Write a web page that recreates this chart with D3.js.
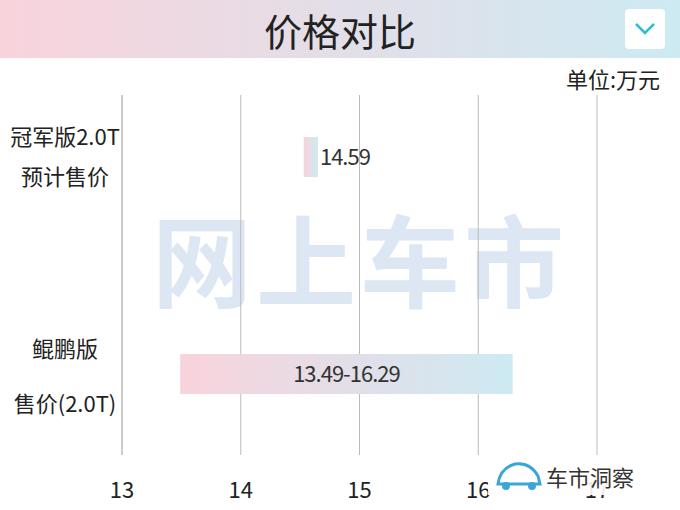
<!DOCTYPE html>
<html><head><meta charset="utf-8">
<script src="https://cdn.jsdelivr.net/npm/d3@7"></script>
<style>body{margin:0;background:#fff}svg{font-family:"Noto Sans CJK SC","Noto Sans",sans-serif}</style>
</head><body>
<svg id="chart" width="680" height="510"></svg>
<script>
const labels = [["冠军版2.0T","预计售价"], ["鲲鹏版","售价(2.0T)"]];
const lows = [14.53, 13.49];
const highs = [14.65, 16.29];
const barText = ["14.59", "13.49-16.29"];
const ticks = [13, 14, 15, 16, 17];

const svg = d3.select("#chart");
const defs = svg.append("defs");
const grad = defs.append("linearGradient").attr("id", "g1");
grad.append("stop").attr("offset", "0%").attr("stop-color", "#f9d3dc");
grad.append("stop").attr("offset", "100%").attr("stop-color", "#cdeaf3");

// header band
svg.append("rect").attr("width", 680).attr("height", 58).attr("fill", "url(#g1)");
svg.append("text").attr("x", 340).attr("y", 46).attr("text-anchor", "middle")
  .attr("font-size", 38).attr("fill", "#222").text("价格对比");
svg.append("rect").attr("x", 625).attr("y", 9).attr("width", 40).attr("height", 40).attr("rx", 4).attr("fill", "#fff");
svg.append("path").attr("d", "M636 24 L645 33 L654 24").attr("fill", "none").attr("stroke", "#2bbfcf").attr("stroke-width", 2.5);
svg.append("text").attr("x", 660).attr("y", 88).attr("text-anchor", "end")
  .attr("font-size", 22).attr("fill", "#222").text("单位:万元");

const x = d3.scaleLinear().domain([13, 17]).range([122, 597]);
const y = d3.scaleBand().domain(d3.range(labels.length)).range([95, 455]).padding(0.55);

// watermark
svg.append("text").attr("x", 360).attr("y", 300).attr("text-anchor", "middle")
  .attr("font-size", 100).attr("font-weight", "bold").attr("fill", "#dde6f3").attr("letter-spacing", 4).text("网上车市");

// grid
svg.selectAll(".grid").data(ticks.slice(1)).join("line")
  .attr("x1", d => x(d)).attr("x2", d => x(d)).attr("y1", 95).attr("y2", 455)
  .attr("stroke", "#bbb").attr("stroke-width", 1);
svg.append("line").attr("x1", 122).attr("x2", 122).attr("y1", 95).attr("y2", 455).attr("stroke", "#999");

svg.selectAll(".tick").data(ticks).join("text")
  .attr("x", d => x(d)).attr("y", 498).attr("text-anchor", "middle")
  .attr("font-size", 22).attr("fill", "#222").text(d => d);

// bars
const h = 40;
const cy = [157, 374];
svg.selectAll(".bar").data(lows).join("rect")
  .attr("x", (d, i) => x(d)).attr("y", (d, i) => cy[i] - h / 2)
  .attr("width", (d, i) => x(highs[i]) - x(d)).attr("height", h)
  .attr("fill", "url(#g1)");
svg.append("text").attr("x", x(highs[0]) + 2).attr("y", cy[0] + 8).attr("font-size", 22)
  .attr("fill", "#333").attr("letter-spacing", -1).text(barText[0]);
svg.append("text").attr("x", (x(lows[1]) + x(highs[1])) / 2).attr("y", cy[1] + 8).attr("text-anchor", "middle")
  .attr("font-size", 22).attr("fill", "#333").attr("letter-spacing", -1).text(barText[1]);

// category labels
labels.forEach((l, i) => {
  const t = svg.append("text").attr("text-anchor", "middle").attr("font-size", 22).attr("fill", "#222");
  t.append("tspan").attr("x", 65).attr("y", cy[i] - 12 + (i ? -5 : 0)).text(l[0]);
  t.append("tspan").attr("x", 65).attr("y", cy[i] + 28 + (i ? 10 : 0)).text(l[1]);
});

// logo
svg.append("rect").attr("x", 488).attr("y", 455).attr("width", 190).attr("height", 40).attr("fill", "#fff").attr("opacity", 0.9);
svg.append("path").attr("d", "M498 484 Q500 468 515 464 Q530 462 538 476 L540 484 Z").attr("fill", "none").attr("stroke", "#3aa6d8").attr("stroke-width", 3);
svg.append("circle").attr("cx", 506).attr("cy", 486).attr("r", 4).attr("fill", "#3aa6d8");
svg.append("circle").attr("cx", 532).attr("cy", 486).attr("r", 4).attr("fill", "#3aa6d8");
svg.append("text").attr("x", 546).attr("y", 486).attr("font-size", 22).attr("fill", "#333").text("车市洞察");
</script>
</body></html>
